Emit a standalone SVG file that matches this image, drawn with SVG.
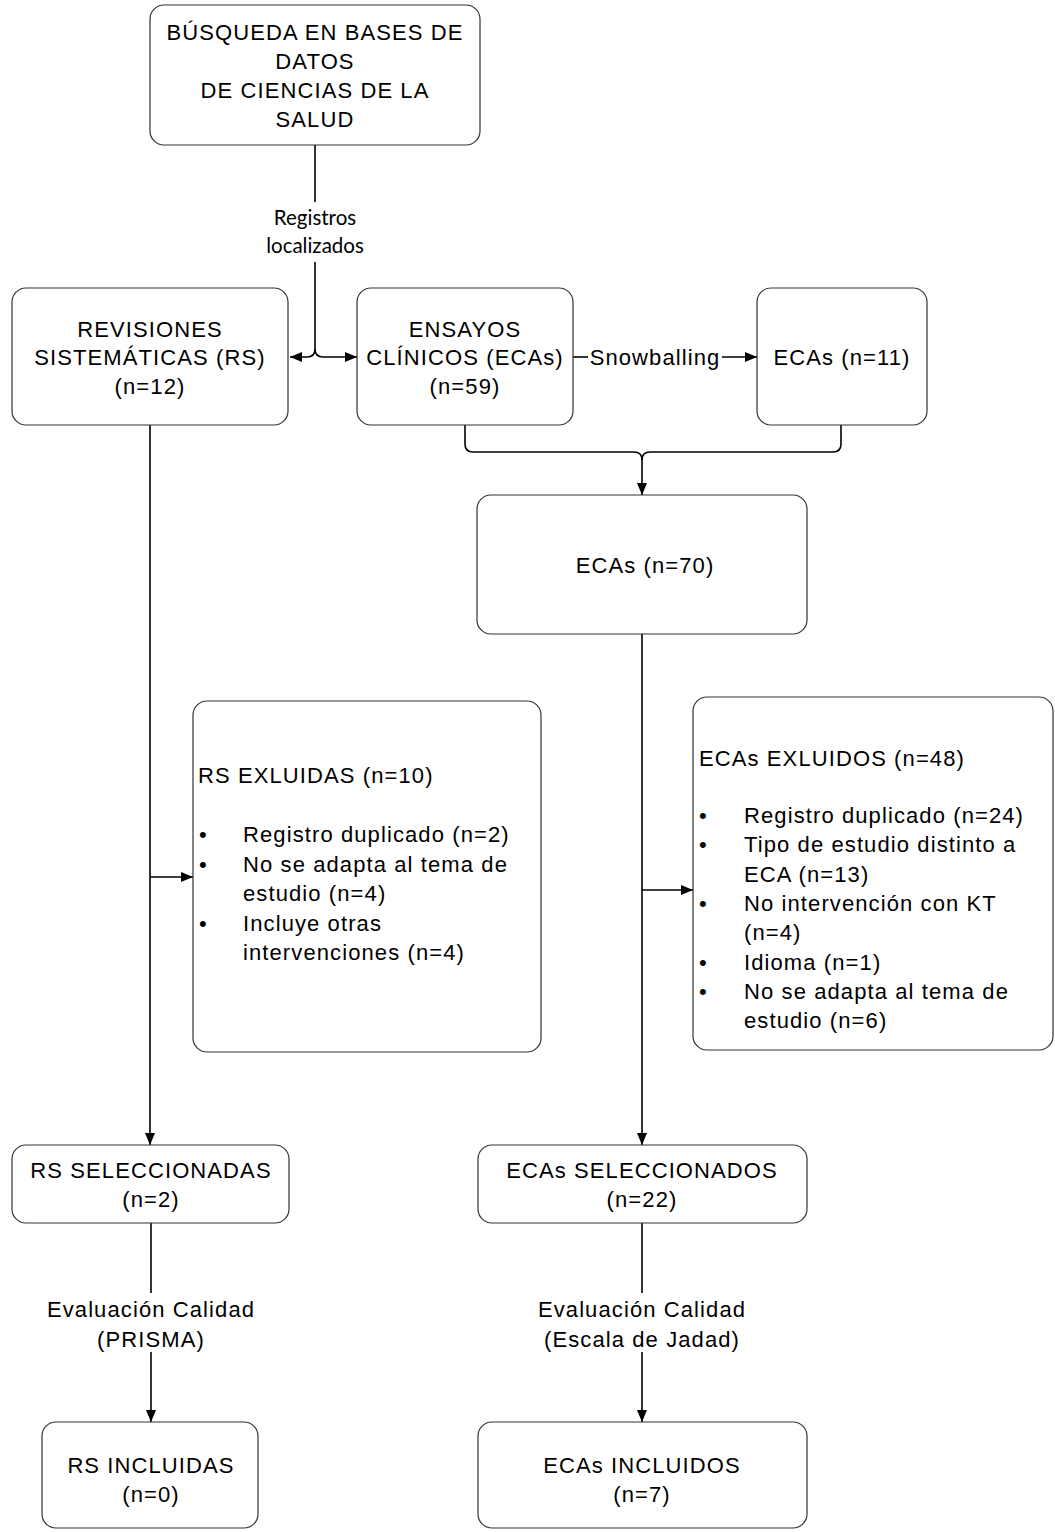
<svg xmlns="http://www.w3.org/2000/svg" width="1055" height="1532" viewBox="0 0 1055 1532">
<defs>
<marker id="arr" viewBox="0 0 12 10" refX="12" refY="5" markerWidth="12" markerHeight="10" markerUnits="userSpaceOnUse" orient="auto">
<path d="M0,0 L12,5 L0,10 z" fill="#000"/>
</marker>
<style>
.box{fill:#fff;stroke:#333;stroke-width:1.2}
.t{font-family:"Liberation Sans",Arial,sans-serif;font-size:22px;letter-spacing:1.1px;fill:#000}
.c{text-anchor:middle}
.lbl{font-family:Lato,"Open Sans",sans-serif;font-size:20.5px;fill:#000;text-anchor:middle}
.con{fill:none;stroke:#000;stroke-width:1.6}
</style>
</defs>
<rect width="1055" height="1532" fill="#fff"/>

<g id="connectors">
<path class="con" d="M315,145 V202"/>
<path class="con" d="M315,262 V349 Q315,357 307,357 H290" marker-end="url(#arr)"/>
<path class="con" d="M315,349 Q315,357 323,357 H357" marker-end="url(#arr)"/>
<path class="con" d="M573,357 H588"/>
<path class="con" d="M722,357 H757" marker-end="url(#arr)"/>
<path class="con" d="M465,425 V444 Q465,452 473,452 H634 Q642,452 642,460 V495" marker-end="url(#arr)"/>
<path class="con" d="M841,425 V444 Q841,452 833,452 H650 Q642,452 642,460"/>
<path class="con" d="M150,425 V1145" marker-end="url(#arr)"/>
<path class="con" d="M150,877 H193" marker-end="url(#arr)"/>
<path class="con" d="M642,634 V1145" marker-end="url(#arr)"/>
<path class="con" d="M642,890 H693" marker-end="url(#arr)"/>
<path class="con" d="M151,1223 V1293"/>
<path class="con" d="M151,1352 V1422" marker-end="url(#arr)"/>
<path class="con" d="M642,1223 V1293"/>
<path class="con" d="M642,1352 V1422" marker-end="url(#arr)"/>
<text class="lbl" x="315" y="225">Registros</text>
<text class="lbl" x="315" y="253">localizados</text>
<text class="t c" x="655" y="365">Snowballing</text>
<text class="t c" x="151" y="1317">Evaluación Calidad</text>
<text class="t c" x="151" y="1347">(PRISMA)</text>
<text class="t c" x="642" y="1317">Evaluación Calidad</text>
<text class="t c" x="642" y="1347">(Escala de Jadad)</text>
</g>

<g id="busqueda">
<rect class="box" x="150" y="5" width="330" height="140" rx="14"/>
<text class="t c" x="315" y="40">BÚSQUEDA EN BASES DE</text>
<text class="t c" x="315" y="69">DATOS</text>
<text class="t c" x="315" y="98">DE CIENCIAS DE LA</text>
<text class="t c" x="315" y="127">SALUD</text>
</g>

<g id="revisiones">
<rect class="box" x="12" y="288" width="276" height="137" rx="14"/>
<text class="t c" x="150" y="337">REVISIONES</text>
<text class="t c" x="150" y="365">SISTEMÁTICAS (RS)</text>
<text class="t c" x="150" y="394">(n=12)</text>
</g>

<g id="ensayos">
<rect class="box" x="357" y="288" width="216" height="137" rx="14"/>
<text class="t c" x="465" y="337">ENSAYOS</text>
<text class="t c" x="465" y="365">CLÍNICOS (ECAs)</text>
<text class="t c" x="465" y="394">(n=59)</text>
</g>

<g id="ecas11">
<rect class="box" x="757" y="288" width="170" height="137" rx="14"/>
<text class="t c" x="842" y="365">ECAs (n=11)</text>
</g>

<g id="ecas70">
<rect class="box" x="477" y="495" width="330" height="139" rx="14"/>
<text class="t c" x="645" y="573">ECAs (n=70)</text>
</g>

<g id="rs-excluidas">
<rect class="box" x="193" y="701" width="348" height="351" rx="14"/>
<text class="t" x="198" y="783">RS EXLUIDAS (n=10)</text>
<text class="t" x="199" y="842">•</text>
<text class="t" x="243" y="842">Registro duplicado (n=2)</text>
<text class="t" x="199" y="871.5">•</text>
<text class="t" x="243" y="871.5">No se adapta al tema de</text>
<text class="t" x="243" y="901">estudio (n=4)</text>
<text class="t" x="199" y="930.5">•</text>
<text class="t" x="243" y="930.5">Incluye otras</text>
<text class="t" x="243" y="960">intervenciones (n=4)</text>
</g>

<g id="ecas-excluidos">
<rect class="box" x="693" y="697" width="360" height="353" rx="14"/>
<text class="t" x="699" y="766">ECAs EXLUIDOS (n=48)</text>
<text class="t" x="699" y="823">•</text>
<text class="t" x="744" y="823">Registro duplicado (n=24)</text>
<text class="t" x="699" y="852.3">•</text>
<text class="t" x="744" y="852.3">Tipo de estudio distinto a</text>
<text class="t" x="744" y="881.6">ECA (n=13)</text>
<text class="t" x="699" y="911">•</text>
<text class="t" x="744" y="911">No intervención con KT</text>
<text class="t" x="744" y="940.3">(n=4)</text>
<text class="t" x="699" y="969.6">•</text>
<text class="t" x="744" y="969.6">Idioma (n=1)</text>
<text class="t" x="699" y="999">•</text>
<text class="t" x="744" y="999">No se adapta al tema de</text>
<text class="t" x="744" y="1028">estudio (n=6)</text>
</g>

<g id="rs-seleccionadas">
<rect class="box" x="12" y="1145" width="277" height="78" rx="14"/>
<text class="t c" x="151" y="1178">RS SELECCIONADAS</text>
<text class="t c" x="151" y="1207">(n=2)</text>
</g>

<g id="ecas-seleccionados">
<rect class="box" x="478" y="1145" width="329" height="78" rx="14"/>
<text class="t c" x="642" y="1178">ECAs SELECCIONADOS</text>
<text class="t c" x="642" y="1207">(n=22)</text>
</g>

<g id="rs-incluidas">
<rect class="box" x="42" y="1422" width="216" height="106" rx="14"/>
<text class="t c" x="151" y="1473">RS INCLUIDAS</text>
<text class="t c" x="151" y="1502">(n=0)</text>
</g>

<g id="ecas-incluidos">
<rect class="box" x="478" y="1422" width="329" height="106" rx="14"/>
<text class="t c" x="642" y="1473">ECAs INCLUIDOS</text>
<text class="t c" x="642" y="1502">(n=7)</text>
</g>
</svg>
